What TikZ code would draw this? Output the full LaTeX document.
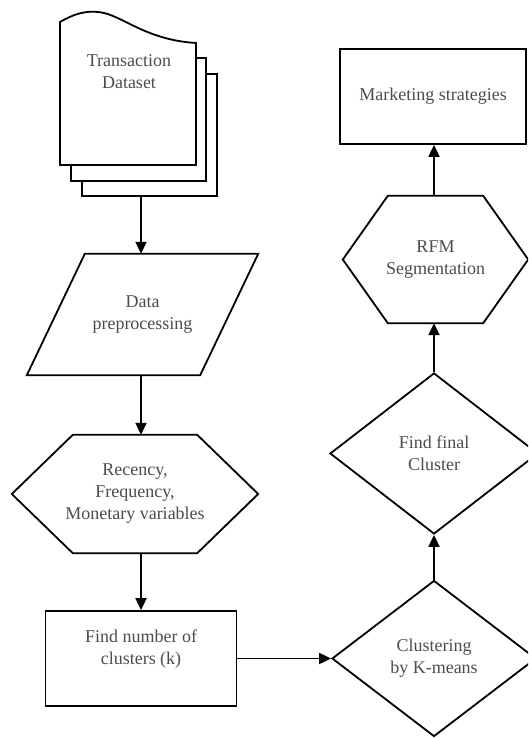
\documentclass[tikz,border=0pt]{standalone}
\usepackage{fontspec}
\setmainfont{Liberation Serif}
\usetikzlibrary{shapes.geometric,arrows.meta}

\begin{document}
\begin{tikzpicture}[x=1pt,y=-1pt]
\tikzstyle{every node}+=[inner sep=0pt, align=center, text=black!70, font=\fontsize{18}{22}\selectfont]
\tikzstyle{line}=[draw=black, line width=1.8pt]
\tikzstyle{arr}=[line, -{Triangle[length=12pt,width=11pt]}]
\tikzstyle{box}=[line, rectangle]
\tikzstyle{decision}=[line, diamond]
\tikzstyle{frame}=[rectangle]
\useasboundingbox (0,0) rectangle (528,738);
\clip (0,0) rectangle (528,738);
% dataset pages
\draw [line, fill=white] (82,74) rectangle (217,196);
\draw [line, fill=white] (71,58) rectangle (206,181);
\draw [line, fill=white] (60,165) -- (60,22) .. controls (72,15) and (86,9) .. (104,13) .. controls (125,18) and (148,40) .. (196,43) -- (196,165) -- cycle;
\node (trans) at (129,72) {Transaction\\Dataset};
\coordinate (stack) at (141,196);
% left column
\node [frame, minimum width=231, minimum height=121] (prep) at (142.5,314.5) {Data\\preprocessing};
\draw [line] ([xshift=58pt]prep.north west) -- (prep.north east) -- ([xshift=-58pt]prep.south east) -- (prep.south west) -- cycle;
\node [frame, minimum width=246, minimum height=118] (rfmvar) at (135,494) {Recency,\\Frequency,\\Monetary variables};
\draw [line] (rfmvar.west) -- ([xshift=61pt]rfmvar.north west) -- ([xshift=-61pt]rfmvar.north east) -- (rfmvar.east) -- ([xshift=-61pt]rfmvar.south east) -- ([xshift=61pt]rfmvar.south west) -- cycle;
\node [box, minimum width=191, minimum height=95] (findk) at (141,658.5) {Find number of\\clusters (k)\\\mbox{}};
% right column
\node [decision, minimum width=204, minimum height=156] (kmeans) at (434,658.5) {Clustering\\by K-means};
\node [decision, minimum width=208, minimum height=161] (final) at (434,453.5) {Find final\\Cluster};
\node [frame, minimum width=185, minimum height=127] (rfmseg) at (435.5,259.5) {RFM\\Segmentation};
\draw [line] (rfmseg.west) -- ([xshift=45pt]rfmseg.north west) -- ([xshift=-45pt]rfmseg.north east) -- (rfmseg.east) -- ([xshift=-45pt]rfmseg.south east) -- ([xshift=45pt]rfmseg.south west) -- cycle;
\node [box, minimum width=186, minimum height=95] (market) at (433,96.5) {Marketing strategies};
% flow
\draw [arr] (stack) -- (stack |- prep.north);
\draw [arr] (stack |- prep.south) -- (stack |- rfmvar.north);
\draw [arr] (stack |- rfmvar.south) -- (findk.north);
\draw [arr] (findk.east) -- (kmeans.west);
\draw [arr] (kmeans.north) -- (final.south);
\draw [arr] (final.north) -- (final.north |- rfmseg.south);
\draw [arr] (final.north |- rfmseg.north) -- (final.north |- market.south);
\end{tikzpicture}
\end{document}
